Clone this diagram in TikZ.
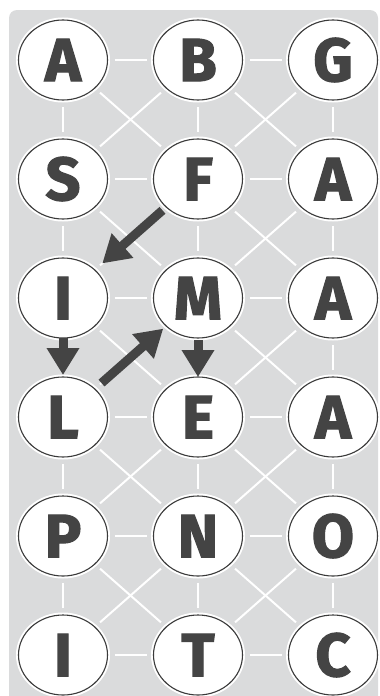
\documentclass[tikz,border=0pt]{standalone}
\usepackage{fontspec}
\setmainfont{Fira Sans}[BoldFeatures={FakeBold=2}]
\usetikzlibrary{arrows.meta,positioning,shapes.geometric}
\definecolor{boardgray}{HTML}{DADBDC}
\definecolor{ink}{HTML}{444444}

\begin{document}
\begin{tikzpicture}[
    x=1pt, y=-1pt,
    node distance=39pt and 46pt,
    tile/.style={ellipse, draw=ink!85!black, line width=1.1pt, fill=white, minimum width=89pt, minimum height=80pt, inner sep=0pt, outer sep=0pt, text=ink, font=\bfseries\fontsize{61}{61}\selectfont, preaction={draw=white, line width=5pt}},
    link/.style={white, line width=2pt, shorten <=7pt, shorten >=7pt},
    move/.style={-{Triangle[length=27pt, width=31pt]}, line width=9pt, ink}
]
\useasboundingbox (0,0) rectangle (380,696);
\begin{scope}
\clip (0,0) rectangle (380,696);
\fill[boardgray, rounded corners=8pt] (9,10) rectangle (378,720);
\end{scope}

\node[tile] (a1) at (63,60) {A};
\node[tile, right=of a1] (b1) {B};
\node[tile, right=of b1] (g1) {G};
\node[tile, below=of a1] (s2) {S};
\node[tile, right=of s2] (f2) {F};
\node[tile, right=of f2] (a2) {A};
\node[tile, below=of s2] (i3) {I};
\node[tile, right=of i3] (m3) {M};
\node[tile, right=of m3] (a3) {A};
\node[tile, below=of i3] (l4) {L};
\node[tile, right=of l4] (e4) {E};
\node[tile, right=of e4] (a4) {A};
\node[tile, below=of l4] (p5) {P};
\node[tile, right=of p5] (n5) {N};
\node[tile, right=of n5] (o5) {O};
\node[tile, below=of p5] (i6) {I};
\node[tile, right=of i6] (t6) {T};
\node[tile, right=of t6] (c6) {C};

% across
\draw[link] (a1) edge (b1) (b1) edge (g1);
\draw[link] (s2) edge (f2) (f2) edge (a2);
\draw[link] (i3) edge (m3) (m3) edge (a3);
\draw[link] (l4) edge (e4) (e4) edge (a4);
\draw[link] (p5) edge (n5) (n5) edge (o5);
\draw[link] (i6) edge (t6) (t6) edge (c6);
% down
\draw[link] (a1) edge (s2) (b1) edge (f2) (g1) edge (a2);
\draw[link] (s2) edge (i3) (f2) edge (m3) (a2) edge (a3);
\draw[link] (i3) edge (l4) (m3) edge (e4) (a3) edge (a4);
\draw[link] (l4) edge (p5) (e4) edge (n5) (a4) edge (o5);
\draw[link] (p5) edge (i6) (n5) edge (t6) (o5) edge (c6);
% diagonals
\draw[link] (a1) edge (f2) (b1) edge (s2) (b1) edge (a2) (g1) edge (f2);
\draw[link] (s2) edge (m3) (f2) edge (i3) (f2) edge (a3) (a2) edge (m3);
\draw[link] (i3) edge (e4) (m3) edge (l4) (m3) edge (a4) (a3) edge (e4);
\draw[link] (l4) edge (n5) (e4) edge (p5) (e4) edge (o5) (a4) edge (n5);
\draw[link] (p5) edge (t6) (n5) edge (i6) (n5) edge (c6) (o5) edge (t6);

% word path
\draw[move, shorten <=5pt, shorten >=10pt] (f2) -- (i3);
\draw[move, shorten >=2pt] (i3) -- (l4);
\draw[move, shorten <=9pt, shorten >=4pt] (l4) -- (m3);
\draw[move, shorten <=2pt] (m3) -- (e4);
\end{tikzpicture}
\end{document}
